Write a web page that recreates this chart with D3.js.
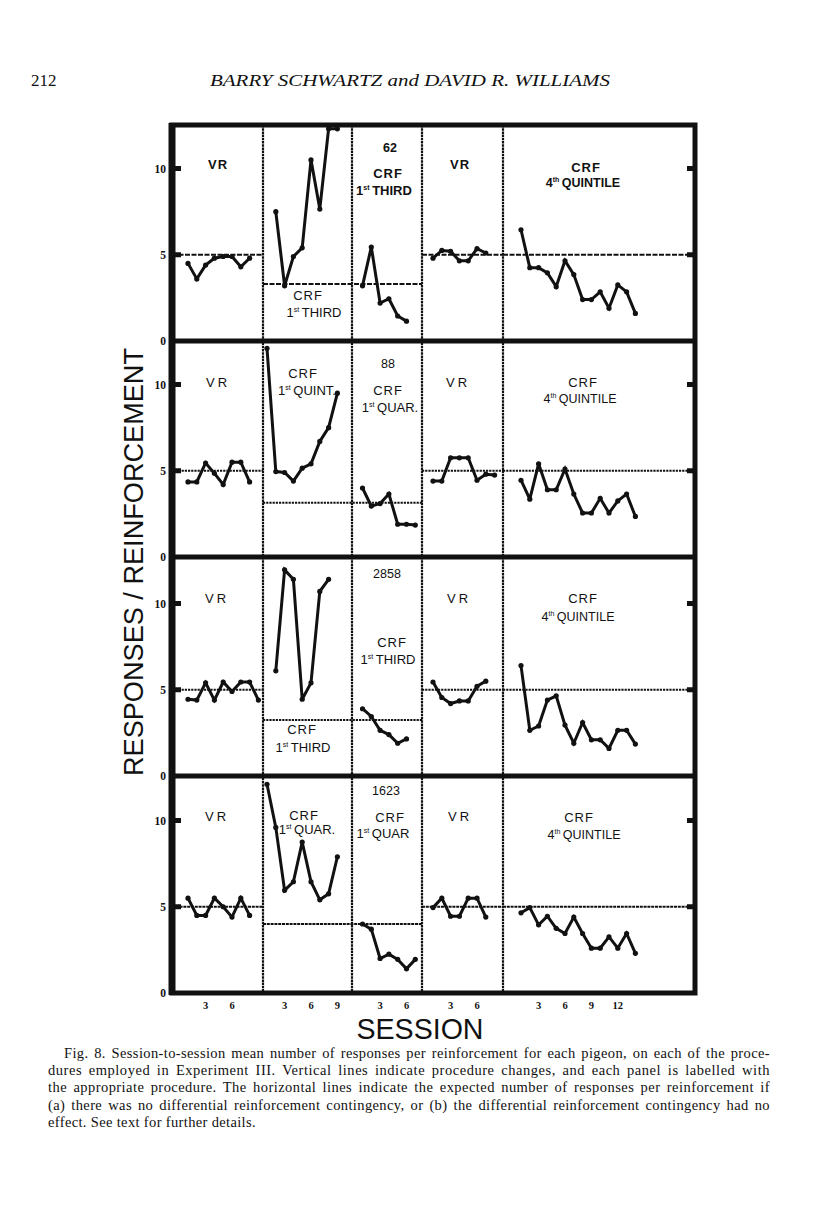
<!DOCTYPE html>
<html><head><meta charset="utf-8">
<script src="https://cdn.jsdelivr.net/npm/d3@7"></script>
<style>body{margin:0;background:#fff}</style>
</head><body>
<svg id="c" width="816" height="1207"></svg>
<script>
// ---------------- DATA ----------------
const pigeons = ["62", "88", "2858", "1623"];
// VR (first)
const vr1_62   = [4.5, 3.6, 4.4, 4.8, 4.9, 4.9, 4.3, 4.8];
const vr1_88   = [4.35, 4.35, 5.45, 4.85, 4.2, 5.5, 5.5, 4.35];
const vr1_2858 = [4.45, 4.4, 5.4, 4.4, 5.45, 4.9, 5.45, 5.45, 4.4];
const vr1_1623 = [5.5, 4.5, 4.5, 5.5, 5.0, 4.4, 5.5, 4.5];
// CRF first block (null = no session plotted)
const crfA_62   = [null, 7.5, 3.2, 4.9, 5.4, 10.5, 7.65, 12.3, 12.3];
const crfA_88   = [12.1, 4.95, 4.9, 4.4, 5.15, 5.4, 6.7, 7.5, 9.5];
const crfA_2858 = [null, 6.1, 11.95, 11.4, 4.45, 5.4, 10.7, 11.4];
const crfA_1623 = [12.1, 9.6, 5.95, 6.45, 8.75, 6.45, 5.4, 5.75, 7.9];
// CRF second block
const crfB_62   = [3.2, 5.45, 2.2, 2.45, 1.45, 1.15];
const crfB_88   = [4.0, 2.95, 3.1, 3.65, 1.9, 1.9, 1.85];
const crfB_2858 = [3.9, 3.45, 2.65, 2.4, 1.9, 2.15];
const crfB_1623 = [4.0, 3.7, 2.0, 2.25, 1.95, 1.4, 1.95];
// VR (second)
const vr2_62   = [4.8, 5.25, 5.2, 4.65, 4.65, 5.35, 5.1];
const vr2_88   = [4.4, 4.4, 5.75, 5.75, 5.75, 4.45, 4.8, 4.75];
const vr2_2858 = [5.45, 4.55, 4.2, 4.35, 4.35, 5.2, 5.5];
const vr2_1623 = [4.95, 5.5, 4.45, 4.45, 5.5, 5.5, 4.4];
// CRF 4th quintile
const q4_62   = [6.45, 4.25, 4.25, 3.95, 3.15, 4.65, 3.85, 2.4, 2.4, 2.85, 1.9, 3.25, 2.85, 1.6];
const q4_88   = [4.45, 3.35, 5.4, 3.9, 3.9, 5.1, 3.65, 2.55, 2.55, 3.4, 2.55, 3.25, 3.65, 2.35];
const q4_2858 = [6.4, 2.65, 2.9, 4.4, 4.65, 2.95, 1.9, 3.1, 2.1, 2.1, 1.6, 2.65, 2.65, 1.85];
const q4_1623 = [4.65, 4.95, 3.95, 4.45, 3.75, 3.45, 4.4, 3.45, 2.6, 2.6, 3.25, 2.6, 3.45, 2.3];
// expected responses per reinforcement
const vrExpected  = [5, 5, 5, 5];
const crfExpected = [3.3, 3.15, 3.25, 4.0];
const q4Expected  = [5, 5, 5, 5];
// labels
const crfALabels = [["1","st","THIRD"], ["1","st","QUINT."], ["1","st","THIRD"], ["1","st","QUAR."]];
const crfBLabels = [["1","st","THIRD"], ["1","st","QUAR."], ["1","st","THIRD"], ["1","st","QUAR"]];
const q4Label = ["4","th","QUINTILE"];
const yTicks = [0, 5, 10];
const sessionTicks = [[3, 6], [3, 6, 9], [3, 6], [3, 6], [3, 6, 9, 12]];

const rowSeries = [
  [vr1_62, crfA_62, crfB_62, vr2_62, q4_62],
  [vr1_88, crfA_88, crfB_88, vr2_88, q4_88],
  [vr1_2858, crfA_2858, crfB_2858, vr2_2858, q4_2858],
  [vr1_1623, crfA_1623, crfB_1623, vr2_1623, q4_1623]
];

// ---------------- LAYOUT ----------------
const svg = d3.select("#c");
svg.append("rect").attr("width", 816).attr("height", 1207).attr("fill", "#fff");
const ink = "#111";
const frameL = 172, frameR = 695, frameT = 125;
const rowBottoms = [341, 557, 776, 993];
const dividers = [263, 352, 422, 503];
const panelEdges = [frameL, ...dividers, frameR];
const colStart = [188, 267, 362.5, 433, 521];
const step = 8.8;
const unit = 17.25;

const xScales = colStart.map(s => d3.scaleLinear().domain([1, 2]).range([s, s + step]));
const yScales = rowBottoms.map(b => d3.scaleLinear().domain([0, 10]).range([b, b - 10 * unit]));

const sans = "'Liberation Sans', Arial, sans-serif";
const serif = "'Liberation Serif', 'Times New Roman', serif";

// header
svg.append("text").attr("x", 31).attr("y", 86).attr("font-family", serif).attr("font-size", 17)
  .attr("fill", ink).text("212");
svg.append("text").attr("x", 210).attr("y", 86).attr("font-family", serif).attr("font-size", 17)
  .attr("font-style", "italic").attr("fill", ink)
  .attr("textLength", 400).attr("lengthAdjust", "spacingAndGlyphs")
  .text("BARRY SCHWARTZ and DAVID R. WILLIAMS");

const g = svg.append("g");

// expected-value lines
function hline(row, v, x1, x2, dash) {
  const y = yScales[row](v);
  g.append("line").attr("x1", x1).attr("x2", x2).attr("y1", y).attr("y2", y)
    .attr("stroke", ink).attr("stroke-width", 2).attr("stroke-dasharray", dash);
}
for (let r = 0; r < 4; r++) {
  const dash = r === 3 ? "3,0.8" : (r === 0 ? "5,1.5" : "2.2,1");
  hline(r, vrExpected[r], panelEdges[0], panelEdges[1], dash);
  hline(r, crfExpected[r], panelEdges[1], panelEdges[3], dash);
  hline(r, vrExpected[r], panelEdges[3], panelEdges[4], dash);
  hline(r, q4Expected[r], panelEdges[4], panelEdges[5], dash);
}

// vertical dividers
dividers.forEach(x => {
  g.append("line").attr("x1", x).attr("x2", x).attr("y1", frameT).attr("y2", rowBottoms[3])
    .attr("stroke", ink).attr("stroke-width", 2.2).attr("stroke-dasharray", "2.5,0.7");
});

// frame
g.append("rect").attr("x", frameL).attr("y", frameT).attr("width", frameR - frameL)
  .attr("height", rowBottoms[3] - frameT).attr("fill", "none").attr("stroke", ink).attr("stroke-width", 5);
g.append("line").attr("x1", frameL).attr("x2", frameL).attr("y1", frameT - 2).attr("y2", rowBottoms[3] + 2)
  .attr("stroke", ink).attr("stroke-width", 7);
rowBottoms.slice(0, 3).forEach(y => {
  g.append("line").attr("x1", frameL).attr("x2", frameR).attr("y1", y).attr("y2", y)
    .attr("stroke", ink).attr("stroke-width", 5);
});

// y ticks + labels
for (let r = 0; r < 4; r++) {
  const ys = yScales[r];
  [5, 10].forEach(v => {
    g.append("rect").attr("x", frameL).attr("y", ys(v) - 2.5).attr("width", 9).attr("height", 5).attr("fill", ink);
    g.append("rect").attr("x", frameR - 8).attr("y", ys(v) - 2.5).attr("width", 8).attr("height", 5).attr("fill", ink);
  });
  yTicks.forEach(v => {
    g.append("text").attr("x", 166).attr("y", ys(v) + 4).attr("text-anchor", "end")
      .attr("font-family", serif).attr("font-weight", "bold").attr("font-size", 11.5)
      .attr("fill", ink).text(v);
  });
}

// data series
const line = d3.line().defined(d => d.v !== null).x(d => d.x).y(d => d.y);
for (let r = 0; r < 4; r++) {
  rowSeries[r].forEach((vals, c) => {
    const pts = vals.map((v, i) => ({ v, x: xScales[c](i + 1), y: v === null ? 0 : yScales[r](v) }));
    g.append("path").attr("d", line(pts)).attr("fill", "none").attr("stroke", ink)
      .attr("stroke-width", 3).attr("stroke-linejoin", "miter").attr("stroke-miterlimit", 3);
    g.selectAll(null).data(pts.filter(p => p.v !== null)).enter().append("circle")
      .attr("cx", d => d.x).attr("cy", d => d.y).attr("r", 2.6).attr("fill", ink);
  });
}

// session tick labels
sessionTicks.forEach((ticks, c) => {
  ticks.forEach(t => {
    g.append("text").attr("x", xScales[c](t)).attr("y", 1009).attr("text-anchor", "middle")
      .attr("font-family", serif).attr("font-weight", "bold").attr("font-size", 10.5)
      .attr("fill", ink).text(t);
  });
});

// panel labels
function label(x, y, txt, bold, size, ls) {
  return g.append("text").attr("x", x).attr("y", y).attr("text-anchor", "middle")
    .attr("font-family", sans).attr("font-weight", bold ? "bold" : "normal")
    .attr("font-size", size || 13).attr("letter-spacing", ls || 0).attr("fill", ink).text(txt);
}
function ordLabel(x, y, parts, bold, size) {
  const t = g.append("text").attr("x", x).attr("y", y).attr("text-anchor", "middle")
    .attr("font-family", sans).attr("font-weight", bold ? "bold" : "normal")
    .attr("font-size", size || 13).attr("fill", ink);
  t.append("tspan").text(parts[0]);
  t.append("tspan").attr("font-size", 7).attr("dy", -5).text(parts[1]);
  t.append("tspan").attr("dy", 5).text("\u2009" + parts[2]);
  return t;
}

const labelPos = [
  { vr1: [218, 169], pig: [390, 152], b1: [388, 178], b2: [384, 195], a1: [308, 300], a2: [314, 317], vr2: [460, 169], q1: [586, 172], q2: [583, 187], bold: true },
  { vr1: [218, 387], pig: [388, 368], b1: [388, 395], b2: [390, 412], a1: [303, 378], a2: [307, 395], vr2: [458, 387], q1: [583, 387], q2: [580, 403], bold: false },
  { vr1: [217, 603], pig: [387, 578], b1: [392, 647], b2: [388, 664], a1: [302, 734], a2: [303, 752], vr2: [459, 603], q1: [583, 603], q2: [578, 621], bold: false },
  { vr1: [217, 821], pig: [386, 795], b1: [390, 822], b2: [383, 838], a1: [304, 820], a2: [307, 834], vr2: [460, 821], q1: [579, 822], q2: [584, 839], bold: false }
];
labelPos.forEach((p, r) => {
  const b = p.bold;
  label(p.vr1[0], p.vr1[1], "VR", b, 13, b ? 1 : 3);
  label(p.vr2[0], p.vr2[1], "VR", b, 13, b ? 1 : 3);
  label(p.pig[0], p.pig[1], pigeons[r], r === 0, 12.5);
  label(p.b1[0], p.b1[1], "CRF", b, 13, 1);
  ordLabel(p.b2[0], p.b2[1], crfBLabels[r], b, 13);
  label(p.a1[0], p.a1[1], "CRF", false, 13, 1);
  ordLabel(p.a2[0], p.a2[1], crfALabels[r], false, 13);
  label(p.q1[0], p.q1[1], "CRF", b, 13, 1);
  ordLabel(p.q2[0], p.q2[1], q4Label, b, 12.5);
});

// axis titles
svg.append("text").attr("transform", "translate(143,562) rotate(-90)").attr("text-anchor", "middle")
  .attr("font-family", sans).attr("font-size", 28).attr("fill", ink)
  .attr("textLength", 428).attr("lengthAdjust", "spacingAndGlyphs")
  .text("RESPONSES / REINFORCEMENT");
svg.append("text").attr("x", 420).attr("y", 1039).attr("text-anchor", "middle")
  .attr("font-family", sans).attr("font-size", 29).attr("fill", ink)
  .attr("textLength", 127).attr("lengthAdjust", "spacingAndGlyphs").text("SESSION");

// caption (justified: part letter spacing, part word spacing)
const caption = [
  "Fig. 8. Session-to-session mean number of responses per reinforcement for each pigeon, on each of the proce-",
  "dures employed in Experiment III. Vertical lines indicate procedure changes, and each panel is labelled with",
  "the appropriate procedure. The horizontal lines indicate the expected number of responses per reinforcement if",
  "(a) there was no differential reinforcement contingency, or (b) the differential reinforcement contingency had no",
  "effect. See text for further details."
];
caption.forEach((t, i) => {
  const x0 = i === 0 ? 64 : 48;
  const tx = svg.append("text").attr("x", x0).attr("y", 1058 + i * 17.2)
    .attr("font-family", serif).attr("font-size", 14.5).attr("fill", ink).text(t);
  if (i < 4) {
    const target = 770 - x0;
    const natural = tx.node().getComputedTextLength();
    if (natural < target) {
      const ls = 0.6 * (target - natural) / t.length;
      tx.attr("letter-spacing", ls);
      const n2 = tx.node().getComputedTextLength();
      const spaces = (t.match(/ /g) || []).length;
      tx.attr("word-spacing", Math.max(0, (target - n2) / spaces));
    } else {
      tx.attr("textLength", target).attr("lengthAdjust", "spacingAndGlyphs");
    }
  } else {
    tx.attr("letter-spacing", 0.35);
  }
});
</script>
</body></html>
